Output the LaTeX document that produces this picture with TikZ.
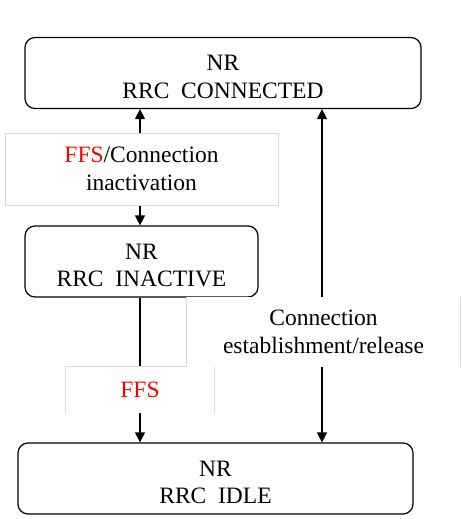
\documentclass[tikz,border=0pt]{standalone}
\usepackage{fontspec}
\setmainfont{Liberation Serif}
\newfontfamily\rrcFont{Liberation Serif}
\usepackage{xcolor}
\definecolor{rrcDark}{RGB}{0, 0, 0}
\definecolor{rrcRed}{RGB}{255, 0, 0}
\definecolor{rrcFrame}{RGB}{217, 217, 217}
\usepackage{tikz}
\usetikzlibrary{
    arrows.meta,
    positioning
}

\begin{document}
\begin{tikzpicture}[
    x=1pt, y=-1pt,
    stateNode/.style={
        rectangle, rounded corners=10pt,
        draw=rrcDark, line width=1.2pt,
        fill=white, text=rrcDark,
        font=\rrcFont\fontsize{23.5}{27.5}\selectfont, align=center,
        inner sep=0pt, minimum height=71pt, text height=50pt, text depth=0pt
    },
    lblNode/.style={
        rectangle, fill=white, text=rrcDark,
        font=\rrcFont\fontsize{23.5}{28}\selectfont, align=center,
        inner sep=0pt
    },
    lblEdge/.style={
        draw=rrcFrame, line width=0.9pt
    },
    transArrow/.style={
        -{Triangle[width=10pt,length=10pt]}, line width=1.3pt, draw=rrcDark
    },
    biArrow/.style={
        {Triangle[width=10pt,length=10pt]}-{Triangle[width=10pt,length=10pt]},
        line width=1.3pt, draw=rrcDark
    }
]
    \useasboundingbox (0,0) rectangle (461,519);

    % States Layout
    \node[stateNode, minimum width=396pt] (connected) at (223, 73) {NR\\RRC~~CONNECTED};
    \node[stateNode, minimum width=233pt] (inactive) at (141.5, 261.5) {NR\\RRC~~INACTIVE};
    \node[stateNode, minimum width=395pt] (idle) at (215.5, 478.5) {NR\\RRC~~IDLE};

    \coordinate (laneL) at (140, 0);
    \coordinate (laneR) at (322, 0);

    % Transitions
    \draw[biArrow] (connected.south -| laneL) -- (inactive.north -| laneL);
    \draw[transArrow] (inactive.south -| laneL) -- (idle.north -| laneL);
    \draw[biArrow] (connected.south -| laneR) -- (idle.north -| laneR);

    % Labels
    \node[lblNode, draw=rrcFrame, line width=0.9pt, minimum width=273pt, minimum height=72pt] (lblInact) at (141.5, 169)
        {\textcolor{rrcRed}{FFS}/Connection\\inactivation};

    \node[lblNode, minimum width=148pt, minimum height=46pt] (lblFfs) at (140, 390) {\textcolor{rrcRed}{FFS}};
    \draw[lblEdge] (lblFfs.south west) -- (lblFfs.north west) -- (lblFfs.north east) -- (lblFfs.south east);

    \node[lblNode, minimum width=273pt, minimum height=70pt] (lblConn) at (323.5, 332) {Connection\\establishment/release};
    \draw[lblEdge] (lblConn.north west) -- (lblConn.south west);
    \draw[lblEdge] (lblConn.north east) -- (lblConn.south east);

\end{tikzpicture}
\end{document}
